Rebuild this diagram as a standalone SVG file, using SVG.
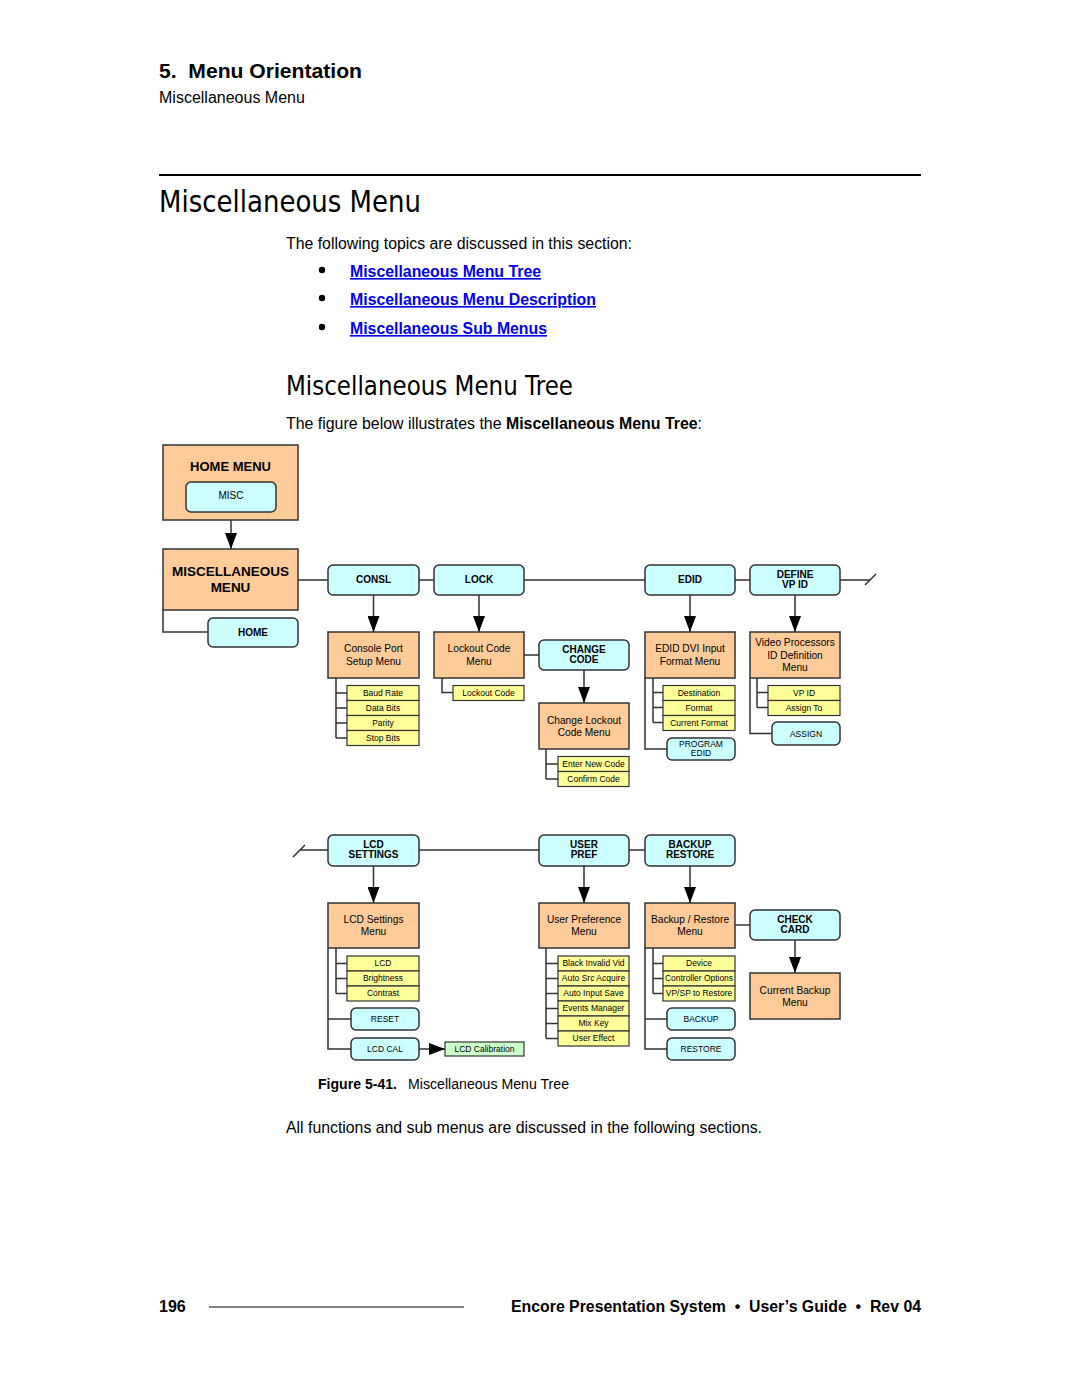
<svg xmlns="http://www.w3.org/2000/svg" width="1080" height="1397" viewBox="0 0 1080 1397">
<style>
text{font-family:"Liberation Sans",Arial,sans-serif;fill:#000}
.o{fill:#ffcc99;stroke:#333;stroke-width:1.5}
.c{fill:#ccffff;stroke:#333;stroke-width:1.5}
.y{fill:#ffff99;stroke:#333;stroke-width:1.2}
.g{fill:#ccffcc;stroke:#333;stroke-width:1.2}
.ln{fill:none;stroke:#333;stroke-width:1.5}
.ar{fill:none;stroke:#333;stroke-width:1.5;marker-end:url(#ah)}
.t{font-size:10.2px;text-anchor:middle}
.b{font-size:10px;font-weight:bold;text-anchor:middle}
.s{font-size:8.5px;text-anchor:middle}
.h{font-size:16px}
.lk{font-size:16px;font-weight:bold;fill:#0000ee;text-decoration:underline}
.ttl{font-family:"DejaVu Sans",sans-serif;font-weight:normal}
</style>
<defs>
<marker id="ah" viewBox="0 0 16 12" refX="16" refY="6" markerWidth="16" markerHeight="12" orient="auto" markerUnits="userSpaceOnUse">
<path d="M0,0 L16,6 L0,12 z" fill="#000"/>
</marker>
</defs>
<rect width="1080" height="1397" fill="#fff"/>

<!-- page text -->
<text x="159" y="78" font-size="21" font-weight="bold" textLength="203" lengthAdjust="spacingAndGlyphs" xml:space="preserve">5.  Menu Orientation</text>
<text x="159" y="103" class="h">Miscellaneous Menu</text>
<line x1="159" y1="175" x2="921" y2="175" stroke="#000" stroke-width="2"/>
<text x="159" y="212" class="ttl" font-size="31" textLength="262" lengthAdjust="spacingAndGlyphs">Miscellaneous Menu</text>
<text x="286" y="249" class="h" textLength="346" lengthAdjust="spacingAndGlyphs">The following topics are discussed in this section:</text>
<circle cx="322" cy="270" r="3.2" fill="#000"/>
<circle cx="322" cy="298" r="3.2" fill="#000"/>
<circle cx="322" cy="327" r="3.2" fill="#000"/>
<text x="350" y="277" class="lk" textLength="191" lengthAdjust="spacingAndGlyphs">Miscellaneous Menu Tree</text>
<text x="350" y="305" class="lk" textLength="246" lengthAdjust="spacingAndGlyphs">Miscellaneous Menu Description</text>
<text x="350" y="334" class="lk" textLength="197" lengthAdjust="spacingAndGlyphs">Miscellaneous Sub Menus</text>
<text x="286" y="395" class="ttl" font-size="27" textLength="287" lengthAdjust="spacingAndGlyphs">Miscellaneous Menu Tree</text>
<text x="286" y="429" class="h" textLength="416" lengthAdjust="spacingAndGlyphs">The figure below illustrates the <tspan font-weight="bold">Miscellaneous Menu Tree</tspan>:</text>

<text x="318" y="1089" font-size="14" font-weight="bold" textLength="79" lengthAdjust="spacingAndGlyphs">Figure 5-41.</text>
<text x="408" y="1089" font-size="14" textLength="161" lengthAdjust="spacingAndGlyphs">Miscellaneous Menu Tree</text>
<text x="286" y="1133" class="h" textLength="476" lengthAdjust="spacingAndGlyphs">All functions and sub menus are discussed in the following sections.</text>

<text x="159" y="1312" font-size="16" font-weight="bold">196</text>
<line x1="209" y1="1307" x2="464" y2="1307" stroke="#000" stroke-width="1"/>
<text x="921" y="1312" font-size="16" font-weight="bold" text-anchor="end" textLength="410" lengthAdjust="spacingAndGlyphs" xml:space="preserve">Encore Presentation System  •  User’s Guide  •  Rev 04</text>

<!-- connectors -->
<g id="connectors">
<path class="ln" d="M298,580 H870 M865,585 L876,574"/>
<path class="ln" d="M300,850 H645 M293,857 L305,845"/>
<path class="ln" d="M163,610 V632 H208"/>
<path class="ln" d="M524,655 H539"/>
<path class="ln" d="M735,925 H750"/>
<path class="ln" d="M336,678 V738 M336,693 H347 M336,708 H347 M336,723 H347 M336,738 H347"/>
<path class="ln" d="M442,678 V692.5 H453"/>
<path class="ln" d="M546,749 V779 M546,764 H558 M546,779 H558"/>
<path class="ln" d="M653,678 V722.5 M653,692.5 H663 M653,707.5 H663 M653,722.5 H663"/>
<path class="ln" d="M645,678 V749 H667"/>
<path class="ln" d="M757,678 V707.5 M757,692.5 H768 M757,707.5 H768"/>
<path class="ln" d="M750,678 V733.5 H772"/>
<path class="ln" d="M336,948 V993.5 M336,963.5 H347 M336,978.5 H347 M336,993.5 H347"/>
<path class="ln" d="M328,948 V1049 H351 M328,1019 H351"/>
<path class="ln" d="M546,948 V1038.5 M546,963.5 H558 M546,978.5 H558 M546,993.5 H558 M546,1008.5 H558 M546,1023.5 H558 M546,1038.5 H558"/>
<path class="ln" d="M653,948 V993.5 M653,963.5 H663 M653,978.5 H663 M653,993.5 H663"/>
<path class="ln" d="M645,948 V1049 H667 M645,1019 H667"/>
<path class="ar" d="M231,512 V549"/>
<path class="ar" d="M373.5,595 V632"/>
<path class="ar" d="M479,595 V632"/>
<path class="ar" d="M584,670 V703"/>
<path class="ar" d="M690,595 V632"/>
<path class="ar" d="M795,595 V632"/>
<path class="ar" d="M373.5,866 V903"/>
<path class="ar" d="M584,866 V903"/>
<path class="ar" d="M690,866 V903"/>
<path class="ar" d="M795,940 V973"/>
<path class="ar" d="M419,1049 H445"/>
</g>

<!-- nodes -->
<g id="home-menu"><rect class="o" x="163" y="445" width="135" height="75"/><text x="230.5" y="471" font-size="13" font-weight="bold" text-anchor="middle">HOME MENU</text></g>
<g id="misc"><rect class="c" x="186" y="482" width="90" height="30" rx="5"/><text x="231" y="499" font-size="10" text-anchor="middle">MISC</text></g>
<g id="misc-menu"><rect class="o" x="163" y="549" width="135" height="61"/><text x="230.5" y="576" font-size="13.5" font-weight="bold" text-anchor="middle">MISCELLANEOUS</text><text x="230.5" y="592" font-size="13.5" font-weight="bold" text-anchor="middle">MENU</text></g>
<g id="home"><rect class="c" x="208" y="618" width="90" height="29" rx="5"/><text x="253" y="636" class="b">HOME</text></g>

<g id="consl"><rect class="c" x="328" y="565" width="91" height="30" rx="5"/><text x="373.5" y="583" class="b">CONSL</text></g>
<g id="lock"><rect class="c" x="434" y="565" width="90" height="30" rx="5"/><text x="479" y="583" class="b">LOCK</text></g>
<g id="edid"><rect class="c" x="645" y="565" width="90" height="30" rx="5"/><text x="690" y="583" class="b">EDID</text></g>
<g id="define-vp-id"><rect class="c" x="750" y="565" width="90" height="30" rx="5"/><text x="795" y="578" class="b">DEFINE</text><text x="795" y="588" class="b">VP ID</text></g>

<g id="console-menu"><rect class="o" x="328" y="632" width="91" height="46"/><text x="373.5" y="652" class="t">Console Port</text><text x="373.5" y="665" class="t">Setup Menu</text></g>
<g id="baud-rate"><rect class="y" x="347" y="685.5" width="72" height="15"/><text x="383" y="695.5" class="s">Baud Rate</text></g>
<g id="data-bits"><rect class="y" x="347" y="700.5" width="72" height="15"/><text x="383" y="710.5" class="s">Data Bits</text></g>
<g id="parity"><rect class="y" x="347" y="715.5" width="72" height="15"/><text x="383" y="725.5" class="s">Parity</text></g>
<g id="stop-bits"><rect class="y" x="347" y="730.5" width="72" height="15"/><text x="383" y="740.5" class="s">Stop Bits</text></g>

<g id="lockout-menu"><rect class="o" x="434" y="632" width="90" height="46"/><text x="479" y="652" class="t">Lockout Code</text><text x="479" y="665" class="t">Menu</text></g>
<g id="lockout-code"><rect class="y" x="453" y="685.5" width="71" height="15"/><text x="488.5" y="695.5" class="s">Lockout Code</text></g>

<g id="change-code"><rect class="c" x="539" y="640" width="90" height="30" rx="5"/><text x="584" y="653" class="b">CHANGE</text><text x="584" y="663" class="b">CODE</text></g>
<g id="change-lockout-menu"><rect class="o" x="539" y="703" width="90" height="46"/><text x="584" y="724" class="t">Change Lockout</text><text x="584" y="736" class="t">Code Menu</text></g>
<g id="enter-new-code"><rect class="y" x="558" y="756.5" width="71" height="15"/><text x="593.5" y="766.5" class="s">Enter New Code</text></g>
<g id="confirm-code"><rect class="y" x="558" y="771.5" width="71" height="15"/><text x="593.5" y="781.5" class="s">Confirm Code</text></g>

<g id="edid-menu"><rect class="o" x="645" y="632" width="90" height="46"/><text x="690" y="652" class="t">EDID DVI Input</text><text x="690" y="665" class="t">Format Menu</text></g>
<g id="destination"><rect class="y" x="663" y="685.5" width="72" height="15"/><text x="699" y="695.5" class="s">Destination</text></g>
<g id="format"><rect class="y" x="663" y="700.5" width="72" height="15"/><text x="699" y="710.5" class="s">Format</text></g>
<g id="current-format"><rect class="y" x="663" y="715.5" width="72" height="15"/><text x="699" y="725.5" class="s">Current Format</text></g>
<g id="program-edid"><rect class="c" x="667" y="738" width="68" height="22" rx="5"/><text x="701" y="747" class="s">PROGRAM</text><text x="701" y="756" class="s">EDID</text></g>

<g id="vp-menu"><rect class="o" x="750" y="632" width="90" height="46"/><text x="795" y="646" class="t">Video Processors</text><text x="795" y="658.5" class="t">ID Definition</text><text x="795" y="671" class="t">Menu</text></g>
<g id="vp-id"><rect class="y" x="768" y="685.5" width="72" height="15"/><text x="804" y="695.5" class="s">VP ID</text></g>
<g id="assign-to"><rect class="y" x="768" y="700.5" width="72" height="15"/><text x="804" y="710.5" class="s">Assign To</text></g>
<g id="assign"><rect class="c" x="772" y="722" width="68" height="23" rx="5"/><text x="806" y="736.5" class="s">ASSIGN</text></g>

<g id="lcd-settings"><rect class="c" x="328" y="835" width="91" height="31" rx="5"/><text x="373.5" y="848" class="b">LCD</text><text x="373.5" y="858" class="b">SETTINGS</text></g>
<g id="user-pref"><rect class="c" x="539" y="835" width="90" height="31" rx="5"/><text x="584" y="848" class="b">USER</text><text x="584" y="858" class="b">PREF</text></g>
<g id="backup-restore"><rect class="c" x="645" y="835" width="90" height="31" rx="5"/><text x="690" y="848" class="b">BACKUP</text><text x="690" y="858" class="b">RESTORE</text></g>

<g id="lcd-menu"><rect class="o" x="328" y="903" width="91" height="45"/><text x="373.5" y="923" class="t">LCD Settings</text><text x="373.5" y="935" class="t">Menu</text></g>
<g id="lcd"><rect class="y" x="347" y="956" width="72" height="15"/><text x="383" y="966" class="s">LCD</text></g>
<g id="brightness"><rect class="y" x="347" y="971" width="72" height="15"/><text x="383" y="981" class="s">Brightness</text></g>
<g id="contrast"><rect class="y" x="347" y="986" width="72" height="15"/><text x="383" y="996" class="s">Contrast</text></g>
<g id="reset"><rect class="c" x="351" y="1008" width="68" height="22" rx="5"/><text x="385" y="1022" class="s">RESET</text></g>
<g id="lcd-cal"><rect class="c" x="351" y="1038" width="68" height="22" rx="5"/><text x="385" y="1052" class="s">LCD CAL</text></g>
<g id="lcd-calibration"><rect class="g" x="445" y="1042" width="79" height="14"/><text x="484.5" y="1052" class="s">LCD Calibration</text></g>

<g id="user-pref-menu"><rect class="o" x="539" y="903" width="90" height="45"/><text x="584" y="923" class="t">User Preference</text><text x="584" y="935" class="t">Menu</text></g>
<g id="black-invalid-vid"><rect class="y" x="558" y="956" width="71" height="15"/><text x="593.5" y="966" class="s">Black Invalid Vid</text></g>
<g id="auto-src-acquire"><rect class="y" x="558" y="971" width="71" height="15"/><text x="593.5" y="981" class="s">Auto Src Acquire</text></g>
<g id="auto-input-save"><rect class="y" x="558" y="986" width="71" height="15"/><text x="593.5" y="996" class="s">Auto Input Save</text></g>
<g id="events-manager"><rect class="y" x="558" y="1001" width="71" height="15"/><text x="593.5" y="1011" class="s">Events Manager</text></g>
<g id="mix-key"><rect class="y" x="558" y="1016" width="71" height="15"/><text x="593.5" y="1026" class="s">Mix Key</text></g>
<g id="user-effect"><rect class="y" x="558" y="1031" width="71" height="15"/><text x="593.5" y="1041" class="s">User Effect</text></g>

<g id="backup-menu"><rect class="o" x="645" y="903" width="90" height="45"/><text x="690" y="923" class="t">Backup / Restore</text><text x="690" y="935" class="t">Menu</text></g>
<g id="device"><rect class="y" x="663" y="956" width="72" height="15"/><text x="699" y="966" class="s">Device</text></g>
<g id="controller-options"><rect class="y" x="663" y="971" width="72" height="15"/><text x="699" y="981" class="s" textLength="68" lengthAdjust="spacingAndGlyphs">Controller Options</text></g>
<g id="vpsp-to-restore"><rect class="y" x="663" y="986" width="72" height="15"/><text x="699" y="996" class="s">VP/SP to Restore</text></g>
<g id="backup"><rect class="c" x="667" y="1008" width="68" height="22" rx="5"/><text x="701" y="1022" class="s">BACKUP</text></g>
<g id="restore"><rect class="c" x="667" y="1038" width="68" height="22" rx="5"/><text x="701" y="1052" class="s">RESTORE</text></g>

<g id="check-card"><rect class="c" x="750" y="910" width="90" height="30" rx="5"/><text x="795" y="923" class="b">CHECK</text><text x="795" y="933" class="b">CARD</text></g>
<g id="current-backup-menu"><rect class="o" x="750" y="973" width="90" height="46"/><text x="795" y="994" class="t">Current Backup</text><text x="795" y="1006" class="t">Menu</text></g>
</svg>
